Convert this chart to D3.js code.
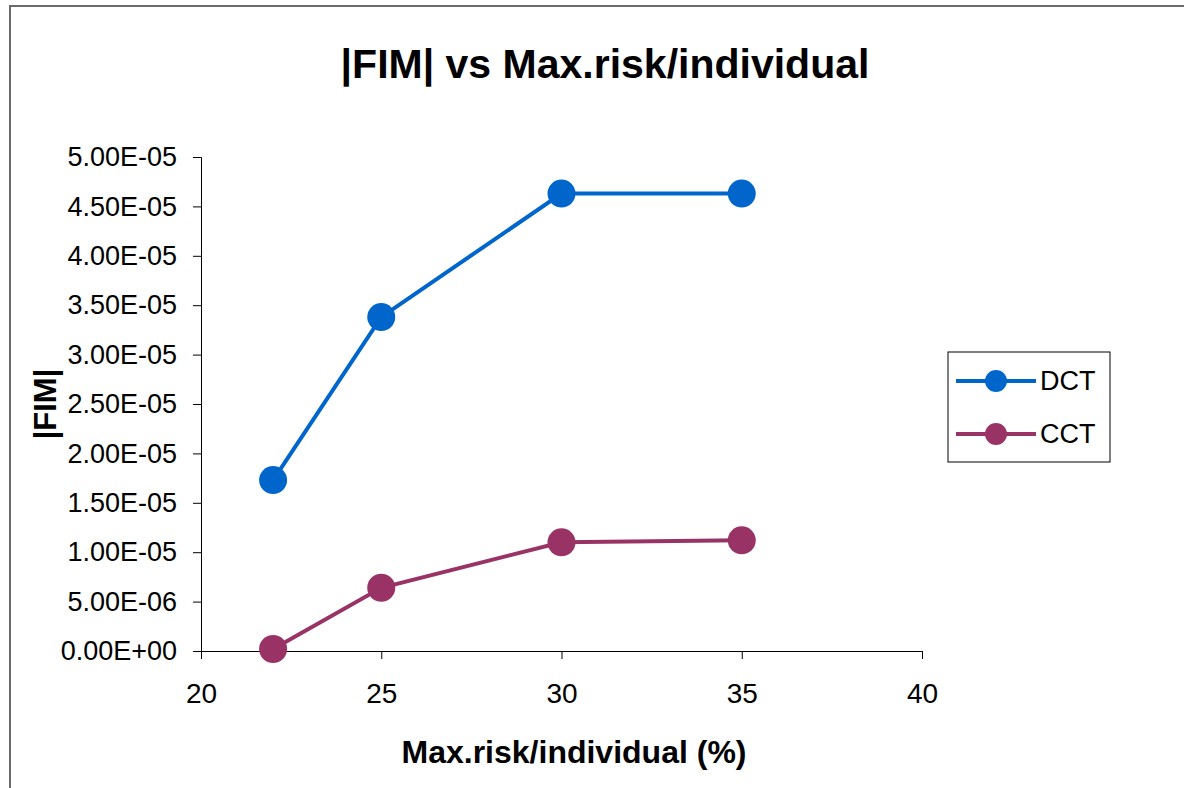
<!DOCTYPE html>
<html>
<head>
<meta charset="utf-8">
<script src="https://cdn.jsdelivr.net/npm/d3@7"></script>
<style>
  body { margin: 0; background: #fff; }
  svg { display: block; font-family: Arial, "Liberation Sans", sans-serif; }
</style>
</head>
<body>
<svg width="1184" height="788"></svg>
<script>
// chart data
const xValues = [22, 25, 30, 35];
const dctValues = [1.73e-5, 3.38e-5, 4.63e-5, 4.63e-5];
const cctValues = [2.0e-7, 6.4e-6, 1.10e-5, 1.12e-5];
const seriesNames = ["DCT", "CCT"];
const seriesColors = ["#0066CC", "#993366"];
const xTicks = [20, 25, 30, 35, 40];
const yTicks = d3.range(0, 11).map(i => i * 5e-6);

const width = 1184, height = 788;
const margin = {top: 157, right: 262, bottom: 137, left: 201};

const svg = d3.select("svg");

// outer chart border (runs off the page on right/bottom like the screenshot)
svg.append("rect")
    .attr("x", 10).attr("y", 6)
    .attr("width", width + 20).attr("height", height + 20)
    .attr("fill", "#fff")
    .attr("stroke", "#6b6b6b")
    .attr("stroke-width", 2);

const x = d3.scaleLinear().domain([20, 40]).range([margin.left, width - margin.right]);
const y = d3.scaleLinear().domain([0, 5e-5]).range([height - margin.bottom, margin.top]);

// y axis
const yAxis = svg.append("g")
    .attr("transform", `translate(${margin.left},0)`)
    .call(d3.axisLeft(y).tickValues(yTicks).tickSize(8).tickPadding(16)
        .tickFormat(d => {
            const s = d.toExponential(2).toUpperCase();   // 5.00E-5
            return s.replace(/E([+-])(\d)$/, "E$10$2");
        }));
yAxis.select(".domain").attr("stroke", "#000").attr("stroke-width", 1);
yAxis.selectAll(".tick line").attr("stroke", "#000");
yAxis.selectAll(".tick text")
    .attr("font-size", 27)
    .attr("font-family", "Arial, 'Liberation Sans', sans-serif")
    .attr("fill", "#000");

// x axis
const xAxis = svg.append("g")
    .attr("transform", `translate(0,${y(0)})`)
    .call(d3.axisBottom(x).tickValues(xTicks).tickSize(8).tickPadding(24));
xAxis.select(".domain").attr("stroke", "#000").attr("stroke-width", 1);
xAxis.selectAll(".tick line").attr("stroke", "#000");
xAxis.selectAll(".tick text")
    .attr("font-size", 28)
    .attr("font-family", "Arial, 'Liberation Sans', sans-serif")
    .attr("fill", "#000");

// series
const series = [dctValues, cctValues].map((vals, i) => ({
    name: seriesNames[i],
    color: seriesColors[i],
    points: xValues.map((xv, j) => ({x: xv, y: vals[j]}))
}));

const line = d3.line().x(d => x(d.x)).y(d => y(d.y));

const sg = svg.append("g").selectAll("g")
    .data(series)
    .join("g");

sg.append("path")
    .attr("d", d => line(d.points))
    .attr("fill", "none")
    .attr("stroke", d => d.color)
    .attr("stroke-width", 4);

sg.selectAll("circle")
    .data(d => d.points.map(p => ({...p, color: d.color})))
    .join("circle")
    .attr("cx", d => x(d.x))
    .attr("cy", d => y(d.y))
    .attr("r", 14)
    .attr("fill", d => d.color);

// title
svg.append("text")
    .attr("x", 605).attr("y", 78)
    .attr("text-anchor", "middle")
    .attr("font-size", 41)
    .attr("font-weight", "bold")
    .text("|FIM| vs Max.risk/individual");

// axis titles
svg.append("text")
    .attr("x", 574).attr("y", 763)
    .attr("text-anchor", "middle")
    .attr("font-size", 32)
    .attr("font-weight", "bold")
    .text("Max.risk/individual (%)");

svg.append("text")
    .attr("transform", "translate(56,404) rotate(-90)")
    .attr("text-anchor", "middle")
    .attr("font-size", 31)
    .attr("font-weight", "bold")
    .text("|FIM|");

// legend
const legend = svg.append("g").attr("transform", "translate(948,352)");
legend.append("rect")
    .attr("width", 162).attr("height", 110)
    .attr("fill", "#fff")
    .attr("stroke", "#000")
    .attr("stroke-width", 1);

const li = legend.selectAll(".item")
    .data(series)
    .join("g")
    .attr("class", "item")
    .attr("transform", (d, i) => `translate(0,${29 + i * 53})`);

li.append("line")
    .attr("x1", 8).attr("x2", 88)
    .attr("stroke", d => d.color)
    .attr("stroke-width", 4);
li.append("circle")
    .attr("cx", 48).attr("r", 11)
    .attr("fill", d => d.color);
li.append("text")
    .attr("x", 92).attr("dy", "0.35em")
    .attr("font-size", 27)
    .text(d => d.name);
</script>
</body>
</html>
